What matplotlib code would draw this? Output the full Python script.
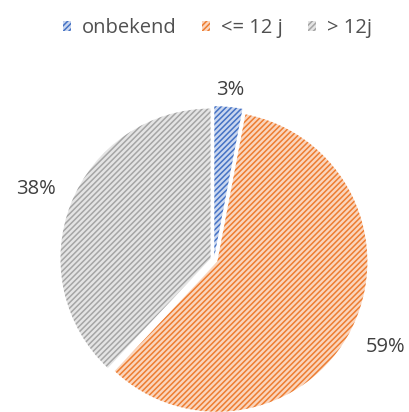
import numpy as np
import matplotlib.pyplot as plt

labels = ["onbekend", "<= 12 j", "> 12j"]
values = [3, 59, 38]
pct_labels = ["3%", "59%", "38%"]

face_colors = ["#C9D6EF", "#FAD5BD", "#E4E4E4"]
hatch_colors = ["#4472C4", "#ED7D31", "#A5A5A5"]
label_dist = [1.14, 1.28, 1.28]

plt.rcParams['hatch.linewidth'] = 1.1
plt.rcParams['font.family'] = ['Open Sans', 'DejaVu Sans']

fig = plt.figure(figsize=(4.10, 4.12), dpi=100)
ax = fig.add_axes([0, 0, 1, 1])

# pie centre / radius in pixels from the reference
cx, cy, r = 214, 260, 150
W, H = 410, 412

wedges, _ = ax.pie(values, startangle=90, counterclock=False,
                   explode=[0.025, 0.025, 0.025], radius=1, frame=False)
for w, fc, hc in zip(wedges, face_colors, hatch_colors):
    w.set_facecolor(fc)
    w.set_edgecolor(hc)
    w.set_linewidth(0)
    w.set_hatch('//////')

for w, txt, d in zip(wedges, pct_labels, label_dist):
    ang = np.deg2rad((w.theta1 + w.theta2) / 2)
    ax.text(d * np.cos(ang), d * np.sin(ang), txt, ha='center', va='center',
            fontsize=14.5, color='#404040')

ax.set_aspect('auto')
ax.set_xlim(-cx / r, (W - cx) / r)
ax.set_ylim(-(H - cy) / r, cy / r)
ax.axis('off')

leg = fig.legend(wedges, labels, loc='upper center', bbox_to_anchor=(0.53, 1.0),
                 ncol=3, frameon=False, fontsize=14.5, handlelength=0.4,
                 handleheight=0.4, handletextpad=0.55, columnspacing=1.25,
                 labelcolor='#505050')

fig.savefig("out.png", dpi=100)
